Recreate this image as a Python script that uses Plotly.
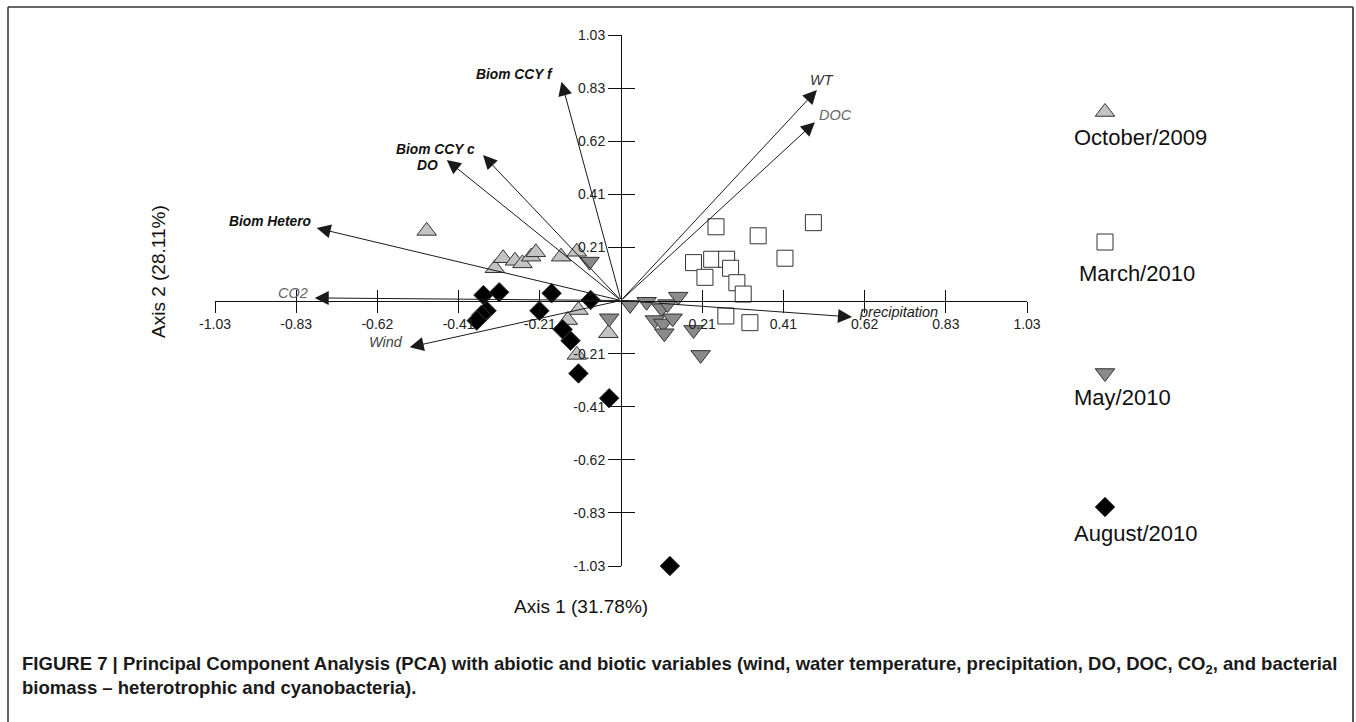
import plotly.graph_objects as go

# ---------------- data ----------------
months = ["October/2009", "March/2010", "May/2010", "August/2010"]

oct_x = [-0.493, -0.320, -0.299, -0.269, -0.250, -0.228, -0.216, -0.152, -0.112, -0.108, -0.135, -0.032, -0.112]
oct_y = [0.270, 0.125, 0.164, 0.154, 0.144, 0.170, 0.187, 0.170, 0.189, -0.037, -0.076, -0.127, -0.211]

mar_x = [0.241, 0.348, 0.488, 0.416, 0.184, 0.230, 0.268, 0.278, 0.213, 0.294, 0.310, 0.266, 0.327]
mar_y = [0.286, 0.251, 0.302, 0.164, 0.147, 0.160, 0.160, 0.125, 0.090, 0.069, 0.025, -0.060, -0.086]

may_x = [-0.080, -0.030, 0.023, 0.065, 0.103, 0.118, 0.145, 0.086, 0.107, 0.131, 0.110, 0.184, 0.202]
may_y = [0.151, -0.069, -0.017, -0.005, -0.030, -0.014, 0.015, -0.076, -0.089, -0.069, -0.127, -0.114, -0.211]

aug_x = [-0.349, -0.309, -0.176, -0.077, -0.341, -0.354, -0.366, -0.207, -0.148, -0.128, -0.108, -0.030, 0.124]
aug_y = [0.021, 0.032, 0.028, 0.002, -0.040, -0.056, -0.078, -0.040, -0.112, -0.156, -0.283, -0.379, -1.03]

variables = ["Biom CCY f", "Biom CCY c", "DO", "Biom Hetero", "CO2", "Wind", "WT", "DOC", "precipitation"]
load_x = [-0.151, -0.350, -0.442, -0.772, -0.777, -0.536, 0.497, 0.492, 0.586]
load_y = [0.849, 0.564, 0.545, 0.281, 0.010, -0.181, 0.817, 0.692, -0.064]

tick_vals = [-1.03, -0.824, -0.618, -0.412, -0.206, 0.206, 0.412, 0.618, 0.824, 1.03]
tick_text = ["-1.03", "-0.83", "-0.62", "-0.41", "-0.21", "0.21", "0.41", "0.62", "0.83", "1.03"]

axis1_title = "Axis 1 (31.78%)"
axis2_title = "Axis 2 (28.11%)"
caption = ("<b>FIGURE 7 | Principal Component Analysis (PCA) with abiotic and biotic variables (wind, water temperature, "
           "precipitation, DO, DOC, CO<sub>2</sub>, and bacterial<br>biomass – heterotrophic and cyanobacteria).</b>")

# ---------------- layout geometry ----------------
W, H = 1356, 722
ML, MR, MT, MB = 215, 16, 35, 156
PW = W - ML - MR
PH = H - MT - MB
main_right_px = 1027
main_dom = (main_right_px - ML) / PW


def pxx(x):
    return (x - ML) / PW


def pxy(y):
    return (H - MB - y) / PH


FONT = "Arial, Liberation Sans, sans-serif"

# styles
label_shift = [(-47, 7), (-48, 6), (-19, -5), (-47, 7), (-22, 5), (-24, 5), (5, 10), (21, 7), (47, 5)]
label_bold = [True, True, True, True, False, False, False, False, False]
label_color = ["#111", "#111", "#111", "#111", "#666", "#444", "#333", "#666", "#222"]

series = [
    (oct_x, oct_y, "triangle-up", "#c3c3c3", 17),
    (mar_x, mar_y, "square", "#ffffff", 16),
    (may_x, may_y, "triangle-down", "#8a8a8a", 17),
    (aug_x, aug_y, "diamond", "#000000", 15),
]

fig = go.Figure()

for (xs, ys, sym, col, sz), name in zip(series, months):
    fig.add_trace(go.Scatter(
        x=xs, y=ys, mode="markers", name=name, showlegend=False,
        marker=dict(symbol=sym, size=sz, color=col, line=dict(color="#333", width=1)),
        cliponaxis=False,
    ))

# dummy trace for overlay axes (tick halves on the other side)
fig.add_trace(go.Scatter(x=[], y=[], xaxis="x2", yaxis="y2", showlegend=False))

# custom legend (marker above text)
leg_y_px = [112, 242, 373, 507]
leg_text_y_px = [137, 273, 397, 533]
leg_text_x_px = [1072, 1077, 1072, 1072]
for (xs, ys, sym, col, sz), name, ly in zip(series, months, leg_y_px):
    fig.add_trace(go.Scatter(
        x=[1105], y=[ly], xaxis="x3", yaxis="y3", mode="markers", showlegend=False,
        marker=dict(symbol=sym, size=sz, color=col, line=dict(color="#333", width=1)),
        cliponaxis=False, hoverinfo="skip",
    ))

annotations = []
# loading arrows
for name, lx, ly, (dx, dy), b, c in zip(variables, load_x, load_y, label_shift, label_bold, label_color):
    annotations.append(dict(
        x=lx, y=ly, ax=0, ay=0, xref="x", yref="y", axref="x", ayref="y",
        text="", showarrow=True, arrowhead=2, arrowsize=2.8, arrowwidth=1,
        arrowcolor="#1a1a1a", standoff=0,
    ))
    t = f"<i>{name}</i>"
    if b:
        t = f"<b>{t}</b>"
    annotations.append(dict(
        x=lx, y=ly, xref="x", yref="y", text=t, showarrow=False,
        xanchor="center", yanchor="middle",
        xshift=dx, yshift=dy, font=dict(family=FONT, size=13.8 if b else 14.5, color=c),
    ))

# legend texts
for name, tx, ty in zip(months, leg_text_x_px, leg_text_y_px):
    annotations.append(dict(
        x=tx, y=ty, xref="x3", yref="y3", text=name, showarrow=False,
        xanchor="left", yanchor="middle", font=dict(family=FONT, size=22, color="#111"),
    ))

# axis titles
annotations.append(dict(x=pxx(581), y=pxy(606), xref="paper", yref="paper", text=axis1_title,
                        xanchor="center", yanchor="middle",
                        showarrow=False, font=dict(family=FONT, size=19, color="#111")))
annotations.append(dict(x=pxx(158), y=pxy(272), xref="paper", yref="paper", text=axis2_title,
                        xanchor="center", yanchor="middle",
                        showarrow=False, textangle=-90, font=dict(family=FONT, size=19, color="#111")))
# caption
annotations.append(dict(x=pxx(20), y=pxy(651), xref="paper", yref="paper", text=caption,
                        showarrow=False, xanchor="left", yanchor="top", align="left",
                        font=dict(family=FONT, size=18.55, color="#1a1a1a")))

shapes = [
    dict(type="line", xref="paper", yref="paper", x0=pxx(8), x1=pxx(1353), y0=pxy(7), y1=pxy(7),
         line=dict(color="#666", width=2)),
    dict(type="line", xref="paper", yref="paper", x0=pxx(8), x1=pxx(8), y0=pxy(7), y1=pxy(740),
         line=dict(color="#333", width=1.5)),
    dict(type="line", xref="paper", yref="paper", x0=pxx(1353), x1=pxx(1353), y0=pxy(7), y1=pxy(740),
         line=dict(color="#555", width=2)),
]

tick_font = dict(family=FONT, size=14, color="#222")
common_x = dict(range=[-1.03, 1.03], domain=[0, main_dom], showgrid=False, zeroline=False,
                tickmode="array", tickvals=tick_vals, ticktext=tick_text, fixedrange=True, automargin=False)
common_y = dict(range=[-1.03, 1.03], domain=[0, 1], showgrid=False, zeroline=False,
                tickmode="array", tickvals=tick_vals, ticktext=tick_text, fixedrange=True, automargin=False)

fig.update_layout(
    width=W, height=H, autosize=False,
    margin=dict(l=ML, r=MR, t=MT, b=MB, autoexpand=False),
    paper_bgcolor="white", plot_bgcolor="rgba(0,0,0,0)",
    showlegend=False,
    xaxis=dict(**common_x, anchor="free", position=0.5, showline=True, linecolor="#111", linewidth=1,
               ticks="outside", ticklen=11, tickcolor="#111", tickfont=tick_font),
    yaxis=dict(**common_y, anchor="free", position=main_dom / 2, showline=True, linecolor="#111", linewidth=1,
               ticks="outside", ticklen=13, tickcolor="#111", tickfont=tick_font),
    xaxis2=dict(**common_x, overlaying="x", anchor="free", position=0.5, showline=False,
                ticks="inside", ticklen=11, tickcolor="#111", showticklabels=False),
    yaxis2=dict(**common_y, overlaying="y", anchor="free", position=main_dom / 2, showline=False,
                ticks="inside", ticklen=13, tickcolor="#111", showticklabels=False),
    xaxis3=dict(domain=[pxx(1040), pxx(1340)], range=[1040, 1340], visible=False, anchor="y3", fixedrange=True),
    yaxis3=dict(domain=[0, 1], range=[H - MB, MT], visible=False, anchor="x3", fixedrange=True),
    annotations=annotations,
    shapes=shapes,
)

fig.write_html("out.html", config={"responsive": False, "displayModeBar": False})
